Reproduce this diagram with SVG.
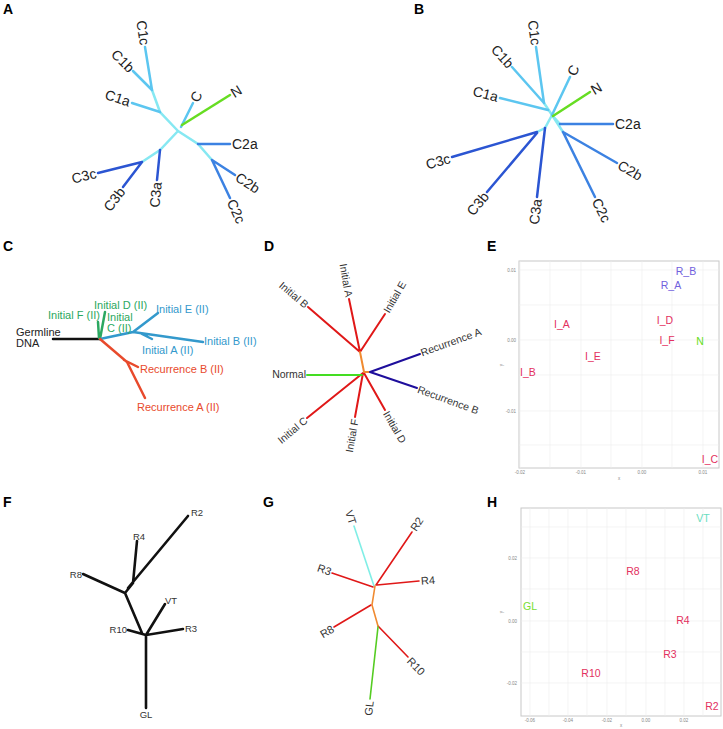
<svg xmlns="http://www.w3.org/2000/svg" width="723" height="729" viewBox="0 0 723 729">
<style>
text{font-family:"Liberation Sans",Arial,sans-serif}
.pl{font-size:14px;font-weight:bold;fill:#000}
.ab{font-size:14px;fill:#222}
.cl{font-size:11px}
.dl{font-size:10.5px;fill:#333}
.fl{font-size:9.5px;fill:#333}
.gl{font-size:11px;fill:#333}
.pt{font-size:10.5px;text-anchor:middle;dominant-baseline:central}
.tk{font-size:4.5px;fill:#888}
.ln{fill:none;stroke-linecap:round}
.a{stroke-width:2.5}
.cy{stroke:#86E8F2}
.lb{stroke:#5CC6F0}
.b2{stroke:#3C82E2}
.b3{stroke:#2B55D2}
.gr{stroke:#66DD22}
.grid{stroke:#ececec;stroke-width:0.6}
.frame{fill:#fff;stroke:#c8c8c8;stroke-width:1}
.red{fill:#E3305E}
</style>

<!-- Panel labels -->
<g id="labels">
<text class="pl" x="3" y="14">A</text>
<text class="pl" x="414" y="14">B</text>
<text class="pl" x="3" y="251">C</text>
<text class="pl" x="264" y="251">D</text>
<text class="pl" x="487" y="251">E</text>
<text class="pl" x="3" y="507">F</text>
<text class="pl" x="263" y="507">G</text>
<text class="pl" x="487" y="507">H</text>
</g>

<!-- Panel A -->
<g id="A-connectors" class="ln a">
<path class="cy" d="M178,131 L160,112 L152,90 M178,131 L160,150 L142,162 M178,131 L198,144 L212,160"/>
<path class="lb" d="M160,112 L132,103 M152,90 L133,71 M152,90 L145,47 M181,127 L193,103"/>
<path class="gr" d="M182,125 L230,95"/>
<path class="b2" d="M198,144 L230,144 M212,160 L235,175 M212,160 L230,198"/>
<path class="b3" d="M142,162 L98,173 M142,162 L123,187 M160,150 L157,180"/>
</g>
<g id="A-nodes" class="ab">
<g id="A-N"><text transform="translate(232,94) rotate(-32)" dy=".35em">N</text></g>
<g id="A-C"><text transform="translate(194,101) rotate(-63)" dy=".35em">C</text></g>
<g id="A-C1c"><text transform="translate(145,45) rotate(81)" dy=".35em" text-anchor="end">C1c</text></g>
<g id="A-C1b"><text transform="translate(132,70) rotate(45)" dy=".35em" text-anchor="end">C1b</text></g>
<g id="A-C1a"><text transform="translate(130,102) rotate(18)" dy=".35em" text-anchor="end">C1a</text></g>
<g id="A-C2a"><text transform="translate(232,144)" dy=".35em">C2a</text></g>
<g id="A-C2b"><text transform="translate(237,176) rotate(33)" dy=".35em">C2b</text></g>
<g id="A-C2c"><text transform="translate(231,200) rotate(65)" dy=".35em">C2c</text></g>
<g id="A-C3a"><text transform="translate(157,182) rotate(-84)" dy=".35em" text-anchor="end">C3a</text></g>
<g id="A-C3b"><text transform="translate(122,189) rotate(-53)" dy=".35em" text-anchor="end">C3b</text></g>
<g id="A-C3c"><text transform="translate(96,173) rotate(-14)" dy=".35em" text-anchor="end">C3c</text></g>
</g>

<!-- Panel B -->
<g id="B-connectors" class="ln a">
<path class="cy" d="M544,103 L552,115 L560,124 M552,115 L563,132 M552,115 L545,128 L537,132"/>
<path class="lb" d="M544,103 L536,47 M544,103 L512,67 M548,110 L500,98 M552,115 L570,77"/>
<path class="gr" d="M553,116 L590,92"/>
<path class="b2" d="M560,124 L613,124 M563,132 L617,163 M563,132 L595,197"/>
<path class="b3" d="M545,128 L537,197 M537,133 L487,192 M537,132 L452,157"/>
</g>
<g id="B-nodes" class="ab">
<g id="B-N"><text transform="translate(592,91) rotate(-31)" dy=".35em">N</text></g>
<g id="B-C"><text transform="translate(571,75) rotate(-65)" dy=".35em">C</text></g>
<g id="B-C1c"><text transform="translate(536,45) rotate(82)" dy=".35em" text-anchor="end">C1c</text></g>
<g id="B-C1b"><text transform="translate(511,66) rotate(48)" dy=".35em" text-anchor="end">C1b</text></g>
<g id="B-C1a"><text transform="translate(498,97) rotate(14)" dy=".35em" text-anchor="end">C1a</text></g>
<g id="B-C2a"><text transform="translate(615,124)" dy=".35em">C2a</text></g>
<g id="B-C2b"><text transform="translate(619,164) rotate(30)" dy=".35em">C2b</text></g>
<g id="B-C2c"><text transform="translate(596,199) rotate(64)" dy=".35em">C2c</text></g>
<g id="B-C3a"><text transform="translate(537,199) rotate(-83)" dy=".35em" text-anchor="end">C3a</text></g>
<g id="B-C3b"><text transform="translate(486,194) rotate(-50)" dy=".35em" text-anchor="end">C3b</text></g>
<g id="B-C3c"><text transform="translate(450,158) rotate(-16)" dy=".35em" text-anchor="end">C3c</text></g>
</g>

<!-- Panel C -->
<g id="C-connectors" class="ln" stroke-width="2.5">
<path stroke="#111" d="M53,339 L100,339"/>
<path stroke="#2BA860" d="M100,339 L105,312 M99,338 L98,322"/>
<path stroke="#3399CC" d="M100,339 L133,332 L158,313 M133,332 L203,342 M140,333 L152,339"/>
<path stroke="#E84A2C" d="M100,339 L127,362 L145,398 M124,360 L138,367"/>
</g>
<g id="C-nodes" class="cl">
<g id="C-germ"><text x="16" y="336" fill="#222">Germline</text><text x="16" y="347" fill="#222">DNA</text></g>
<g id="C-IF"><text x="48" y="319" fill="#2BA860">Initial F (II)</text></g>
<g id="C-ID"><text x="94" y="309" fill="#2BA860">Initial D (II)</text></g>
<g id="C-IC"><text x="107" y="321" fill="#2BA860">Initial</text><text x="107" y="332" fill="#2BA860">C (II)</text></g>
<g id="C-IE"><text x="156" y="313" fill="#3399CC">Initial E (II)</text></g>
<g id="C-IB"><text x="204" y="345" fill="#3399CC">Initial B (II)</text></g>
<g id="C-IA"><text x="142" y="354" fill="#3399CC">Initial A (II)</text></g>
<g id="C-RB"><text x="140" y="373" fill="#E84A2C">Recurrence B (II)</text></g>
<g id="C-RA"><text x="137" y="411" fill="#E84A2C">Recurrence A (II)</text></g>
</g>

<!-- Panel D -->
<g id="D-connectors" class="ln" stroke-width="2">
<path stroke="#E01818" d="M360,352 L308,307 M360,352 L349,299 M360,352 L385,314 M363,373 L307,418 M363,373 L355,417 M364,373 L385,410"/>
<path stroke="#F08A30" d="M360,352 L364,372 L370,372"/>
<path stroke="#44DD22" d="M307,375 L362,375"/>
<path stroke="#1E0E9C" d="M370,372 L420,354 M370,372 L417,388"/>
</g>
<g id="D-nodes" class="dl">
<g id="D-IB"><text transform="translate(307,306) rotate(40)" dy=".35em" text-anchor="end">Initial B</text></g>
<g id="D-IA"><text transform="translate(349,297) rotate(80)" dy=".35em" text-anchor="end">Initial A</text></g>
<g id="D-IE"><text transform="translate(386,312) rotate(-60)" dy=".35em">Initial E</text></g>
<g id="D-RA"><text transform="translate(421,353) rotate(-20)" dy=".35em">Recurrence A</text></g>
<g id="D-RB"><text transform="translate(418,389) rotate(20)" dy=".35em">Recurrence B</text></g>
<g id="D-N"><text x="306" y="378" text-anchor="end">Normal</text></g>
<g id="D-IC"><text transform="translate(306,419) rotate(-40)" dy=".35em" text-anchor="end">Initial C</text></g>
<g id="D-IF"><text transform="translate(355,419) rotate(-80)" dy=".35em" text-anchor="end">Initial F</text></g>
<g id="D-ID"><text transform="translate(386,412) rotate(60)" dy=".35em">Initial D</text></g>
</g>

<!-- Panel E plot -->
<g id="E-plot">
<rect class="frame" x="519" y="261" width="200" height="207"/>
<path class="grid" d="M550,261V468M611,261V468M672,261V468M520,261V468M581,261V468M642,261V468M703,261V468M519,305H719M519,375H719M519,445H719M519,270H719M519,340H719M519,411H719"/>
<g class="tk" text-anchor="end"><text x="516" y="272">0.01</text><text x="516" y="342">0.00</text><text x="516" y="413">-0.01</text></g>
<g class="tk" text-anchor="middle"><text x="520" y="474">-0.02</text><text x="581" y="474">-0.01</text><text x="642" y="474">0.00</text><text x="703" y="474">0.01</text><text x="619" y="480">x</text><text transform="translate(503,365) rotate(-90)">y</text></g>
</g>
<g id="E-nodes">
<text class="pt" x="686" y="271" fill="#7060DD">R_B</text>
<text class="pt" x="671" y="285" fill="#7060DD">R_A</text>
<text class="pt red" x="665" y="320">I_D</text>
<text class="pt red" x="667" y="340">I_F</text>
<text class="pt" x="700" y="341" fill="#66DD22">N</text>
<text class="pt red" x="562" y="324">I_A</text>
<text class="pt red" x="593" y="356">I_E</text>
<text class="pt red" x="528" y="372">I_B</text>
<text class="pt red" x="710" y="459">I_C</text>
</g>

<!-- Panel F -->
<g id="F-connectors" class="ln" stroke="#111" stroke-width="2.6">
<path d="M146,708 L146,635 L183,629 M146,635 L165,604 M146,635 L128,630 M142,633 L125,593 L83,574 M125,593 L133,583 L137,541 M128,588 L188,516"/>
</g>
<g id="F-nodes" class="fl">
<g id="F-GL"><text x="146" y="718" text-anchor="middle">GL</text></g>
<g id="F-R3"><text x="185" y="632">R3</text></g>
<g id="F-VT"><text x="165" y="604">VT</text></g>
<g id="F-R10"><text x="127" y="633" text-anchor="end">R10</text></g>
<g id="F-R8"><text x="82" y="578" text-anchor="end">R8</text></g>
<g id="F-R4"><text x="133" y="540">R4</text></g>
<g id="F-R2"><text x="191" y="516">R2</text></g>
</g>

<!-- Panel G -->
<g id="G-connectors" class="ln" stroke-width="1.6">
<path stroke="#80EEE6" d="M354,526 L374,586"/>
<path stroke="#E01818" d="M376,585 L412,532 M377,585 L419,581 M373,587 L332,573 M371,605 L334,627 M378,626 L408,657"/>
<path stroke="#F08A30" d="M375,586 L372,605 L378,626"/>
<path stroke="#55CC22" d="M378,627 L370,699"/>
</g>
<g id="G-nodes" class="gl">
<g id="G-VT"><text transform="translate(353,524) rotate(72)" dy=".35em" text-anchor="end">VT</text></g>
<g id="G-R2"><text transform="translate(413,530) rotate(-57)" dy=".35em">R2</text></g>
<g id="G-R4"><text transform="translate(421,581) rotate(-5)" dy=".35em">R4</text></g>
<g id="G-R3"><text transform="translate(331,572) rotate(19)" dy=".35em" text-anchor="end">R3</text></g>
<g id="G-R8"><text transform="translate(333,628) rotate(-31)" dy=".35em" text-anchor="end">R8</text></g>
<g id="G-R10"><text transform="translate(409,659) rotate(46)" dy=".35em">R10</text></g>
<g id="G-GL"><text transform="translate(370,701) rotate(-83)" dy=".35em" text-anchor="end">GL</text></g>
</g>

<!-- Panel H plot -->
<g id="H-plot">
<rect class="frame" x="521" y="508" width="200" height="208"/>
<path class="grid" d="M530,508V716M568,508V716M607,508V716M646,508V716M684,508V716M549,508V716M587,508V716M626,508V716M665,508V716M703,508V716M521,558H721M521,621H721M521,683H721M521,527H721M521,589H721M521,652H721"/>
<g class="tk" text-anchor="end"><text x="517" y="560">0.02</text><text x="517" y="623">0.00</text><text x="517" y="685">-0.02</text></g>
<g class="tk" text-anchor="middle"><text x="530" y="722">-0.06</text><text x="568" y="722">-0.04</text><text x="607" y="722">-0.02</text><text x="646" y="722">0.00</text><text x="684" y="722">0.02</text><text x="621" y="727">x</text><text transform="translate(503,612) rotate(-90)">y</text></g>
</g>
<g id="H-nodes">
<text class="pt" x="703" y="518" fill="#6ADDC0">VT</text>
<text class="pt red" x="633" y="571">R8</text>
<text class="pt" x="530" y="606" fill="#77DD33">GL</text>
<text class="pt red" x="683" y="620">R4</text>
<text class="pt red" x="670" y="654">R3</text>
<text class="pt red" x="591" y="673">R10</text>
<text class="pt red" x="712" y="706">R2</text>
</g>
</svg>
